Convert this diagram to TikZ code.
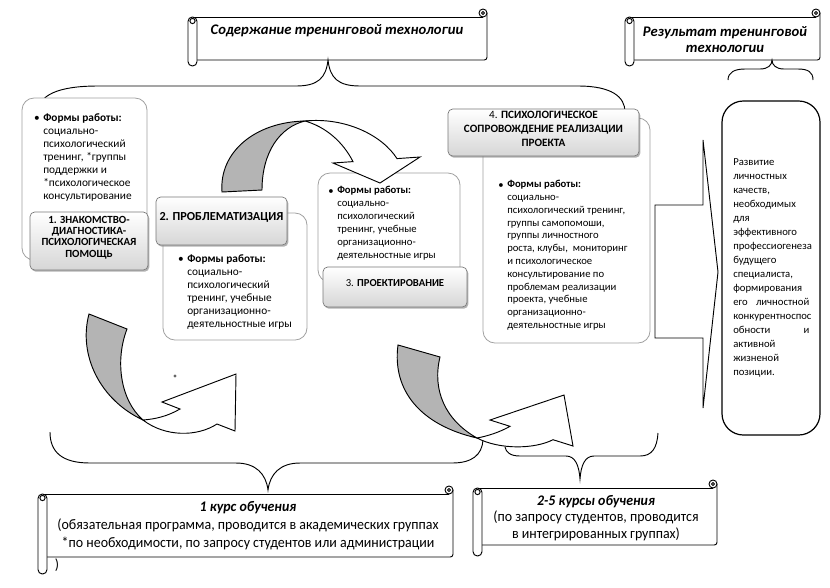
\documentclass[tikz,border=0pt]{standalone}
\usepackage{fontspec}
\setmainfont{Carlito}
\newfontfamily\narrowfont{Carlito}[FakeStretch=0.95]
\usetikzlibrary{fit,shadows}
\definecolor{bordgray}{RGB}{160,160,160}
\definecolor{lblgray}{RGB}{120,120,120}
\definecolor{ribgray}{RGB}{180,180,180}
\tikzset{
  cbox/.style={draw=bordgray, fill=white, rounded corners=9pt, inner sep=0pt, line width=0.6pt},
  lbl/.style={draw=lblgray, top color=white, bottom color={rgb,255:red,214;green,214;blue,214},
    rounded corners=3.5pt, inner sep=0pt, align=center, line width=0.5pt,
    drop shadow={shadow xshift=1pt, shadow yshift=-1.3pt, fill=black!50, opacity=0.6},
    font=\fontsize{7.5}{8.6}\selectfont\bfseries},
  txt/.style={anchor=north west, inner sep=0pt, align=left},
  bul/.style={inner sep=0pt},
  ln/.style={draw=black, line width=0.7pt},
  rib/.style={draw=black, line width=0.7pt, fill=ribgray},
  ribw/.style={draw=black, line width=0.7pt, fill=white},
}
\newcommand\myscroll[5]{%
  \fill[white] (#1+5,#2) rectangle (#3,#4);
  \draw[ln] (#1+5,#2) -- (#3-4,#2);
  \draw[ln, rounded corners=2pt] (#3,#2-4) -- (#3,#4) -- (#1+5,#4);
  \draw[ln, fill=white] (#3-4,#2-4) circle[radius=4];
  \draw[ln] (#3-4,#2-4) circle[radius=1.5];
  \draw[ln, fill=white, rounded corners=3.3pt] (#1,#2) rectangle (#1+9,#5);
  \draw[ln, fill=white] (#1+4.5,#2+4) circle[radius=2.6];
}
\begin{document}
\begin{tikzpicture}[x=0.75pt,y=-0.75pt]
\useasboundingbox[fill=white] (0,0) rectangle (830,587);

% ---------- top scrolls ----------
\myscroll{188}{17}{487}{60}{66}
\node[inner sep=0pt, font=\fontsize{11}{13}\selectfont\bfseries\itshape] (t1) at (337,31) {Содержание тренинговой технологии};
\myscroll{625}{17}{820}{60}{66}
\node[inner sep=0pt, align=center, font=\fontsize{11}{12}\selectfont\bfseries\itshape] (t2) at (725,40) {Результат тренинговой\\технологии};

% ---------- top braces ----------
\draw[ln] (38,113) .. controls (38,95) and (58,86) .. (98,86) -- (296,86)
  .. controls (318,86) and (326,78) .. (328,60)
  .. controls (330,78) and (338,86) .. (360,86) -- (578,86)
  .. controls (612,86) and (625,97) .. (625,112);
\draw[ln] (728,80) .. controls (728,72) and (735,69) .. (745,69) -- (760,69)
  .. controls (768,69) and (772,65) .. (772,60)
  .. controls (772,65) and (776,69) .. (784,69) -- (798,69)
  .. controls (808,69) and (813,72) .. (813,80);

% ---------- box 1 ----------
\node[cbox, fit={(22,98) (147,260)}] (b1) {};
\node[bul, font=\fontsize{8.5}{9.75}\selectfont] (b1u) at (37,119) {•};
\node[txt, font=\fontsize{8.5}{9.75}\selectfont] (b1t) at (43,113)
 {\textbf{Формы работы:}\\социально-\\психологический\\тренинг, *группы\\поддержки и\\*психологическое\\консультирование};
\node[lbl, fit={(30,212) (148,270)}, font=\fontsize{8.2}{8.5}\selectfont\bfseries] (l1) {1. ЗНАКОМСТВО-\\ДИАГНОСТИКА-\\ПСИХОЛОГИЧЕСКАЯ\\ПОМОЩЬ};

% ---------- box 2 ----------
\node[cbox, fit={(163,213) (307,340)}] (b2) {};
\node[bul, font=\fontsize{8.5}{9.75}\selectfont] (b2u) at (181,260) {•};
\node[txt, font=\fontsize{8.5}{9.75}\selectfont] (b2t) at (187,254)
 {\textbf{Формы работы:}\\социально-\\психологический\\тренинг, учебные\\организационно-\\деятельностные игры};
\node[lbl, fit={(156,197) (287,245)}, font=\fontsize{9.2}{10}\selectfont\bfseries] (l2) {2. ПРОБЛЕМАТИЗАЦИЯ};

% ---------- box 3 ----------
\node[cbox, fit={(318,173) (460,282)}] (b3) {};
\node[bul, font=\fontsize{8}{9.75}\selectfont] (b3u) at (331,192) {•};
\node[txt, font=\fontsize{8}{9.75}\selectfont] (b3t) at (337,186)
 {\textbf{Формы работы:}\\социально-\\психологический\\тренинг, учебные\\организационно-\\деятельностные игры};
\node[lbl, fit={(323,267) (467,307)}, font=\fontsize{8}{9}\selectfont] (l3) {3. \textbf{ПРОЕКТИРОВАНИЕ}};

% ---------- box 4 ----------
\node[cbox, fit={(483,118) (650,343)}] (b4) {};
\node[bul, font=\fontsize{8}{9.6}\selectfont] (b4u) at (501,186) {•};
\node[txt, font=\fontsize{8}{9.6}\selectfont] (b4t) at (507,180)
 {\textbf{Формы работы:}\\социально-\\психологический тренинг,\\группы самопомоши,\\группы личностного\\роста, клубы,\ \ мониторинг\\и психологическое\\консультирование по\\проблемам реализации\\проекта, учебные\\организационно-\\деятельностные игры};
\node[lbl, fit={(448,109) (639,156)}, font=\fontsize{8.4}{10.8}\selectfont] (l4) {\mdseries 4. \bfseries ПСИХОЛОГИЧЕСКОЕ\\СОПРОВОЖДЕНИЕ РЕАЛИЗАЦИИ\\ПРОЕКТА};

% ---------- result ----------
\draw[ln, fill=white] (655,205) -- (703,205) -- (703,140) -- (718,272) -- (703,408) -- (703,338) -- (655,338) -- cycle;
\node[draw=black, line width=0.9pt, rounded corners=16pt, inner sep=0pt, fit={(722,101) (820,435)}] (res) {};
\node[txt, font=\fontsize{8}{10.5}\selectfont] (rest) at (733,158)
 {Развитие\\личностных\\качеств,\\необходимых\\для\\эффективного\\профессиогенеза\\будущего\\специалиста,\\формирования\\\makebox[57pt][s]{его\hfill личностной}\\конкурентноспос\\\makebox[57pt][s]{обности\hfill и}\\активной\\жизненой\\позиции.};

% ---------- bottom braces ----------
\draw[ln] (50,432) .. controls (50,452) and (62,463) .. (90,463) -- (236,463)
  .. controls (256,463) and (266,474) .. (268,490)
  .. controls (270,474) and (280,463) .. (300,463) -- (452,463)
  .. controls (472,463) and (482,455) .. (483,440);
\draw[ln] (505,447) .. controls (506,452) and (510,456) .. (520,456) -- (566,456)
  .. controls (575,456) and (579,465) .. (580,479)
  .. controls (581,465) and (585,456) .. (594,456) -- (640,456)
  .. controls (652,456) and (657,448) .. (658,433);

% ---------- curved arrows ----------
% A: box 2 -> box 3
\draw[rib] (222,192) .. controls (219,152) and (255,122) .. (305,121)
  .. controls (280,127) and (262,152) .. (262,190) -- cycle;
\draw[ribw] (305,121) .. controls (345,117) and (382,135) .. (397,158.6)
  -- (420,157) -- (380,183) -- (333,163) -- (353,161.6)
  .. controls (343,142) and (326,127) .. (305,121) -- cycle;
% B
\draw[rib] (89,314) -- (127,329) .. controls (115,360) and (120,400) .. (143,420)
  .. controls (100,400) and (78,355) .. (89,314) -- cycle;
\draw[ribw] (143,420) .. controls (165,437) and (197,437) .. (217,424)
  -- (235,431) -- (236,374) -- (162,402) -- (180,409)
  .. controls (168,416) and (156,419) .. (143,420) -- cycle;
\fill[black!60] (175,376) circle[radius=1.6];
% C
\draw[rib] (398,345) -- (440,357) .. controls (432,390) and (445,420) .. (477,438)
  .. controls (420,425) and (392,390) .. (398,345) -- cycle;
\draw[ribw] (477,438) .. controls (500,450) and (535,449) .. (553,439.7)
  -- (573,446) -- (564,395) -- (490,420) -- (510,426.3)
  .. controls (500,432) and (488,436) .. (477,438) -- cycle;

% ---------- bottom scrolls ----------
\myscroll{38}{494}{453}{557}{574}
\node[inner sep=0pt, align=center, font=\narrowfont\fontsize{11}{13.5}\selectfont] (s1) at (248,526)
 {\textbf{\textit{1 курс обучения}}\\(обязательная программа, проводится в академических группах\\*по необходимости, по запросу студентов или администрации};
\node[inner sep=0pt, font=\narrowfont\fontsize{11}{13}\selectfont] (s1p) at (57,565) {)};
\myscroll{473}{488}{717}{545}{556}
\node[inner sep=0pt, align=center, font=\narrowfont\fontsize{11}{12.6}\selectfont] (s2) at (596,518)
 {\textbf{\textit{2-5 курсы обучения}}\\(по запросу студентов, проводится\\в интегрированных группах)};
\end{tikzpicture}
\end{document}
